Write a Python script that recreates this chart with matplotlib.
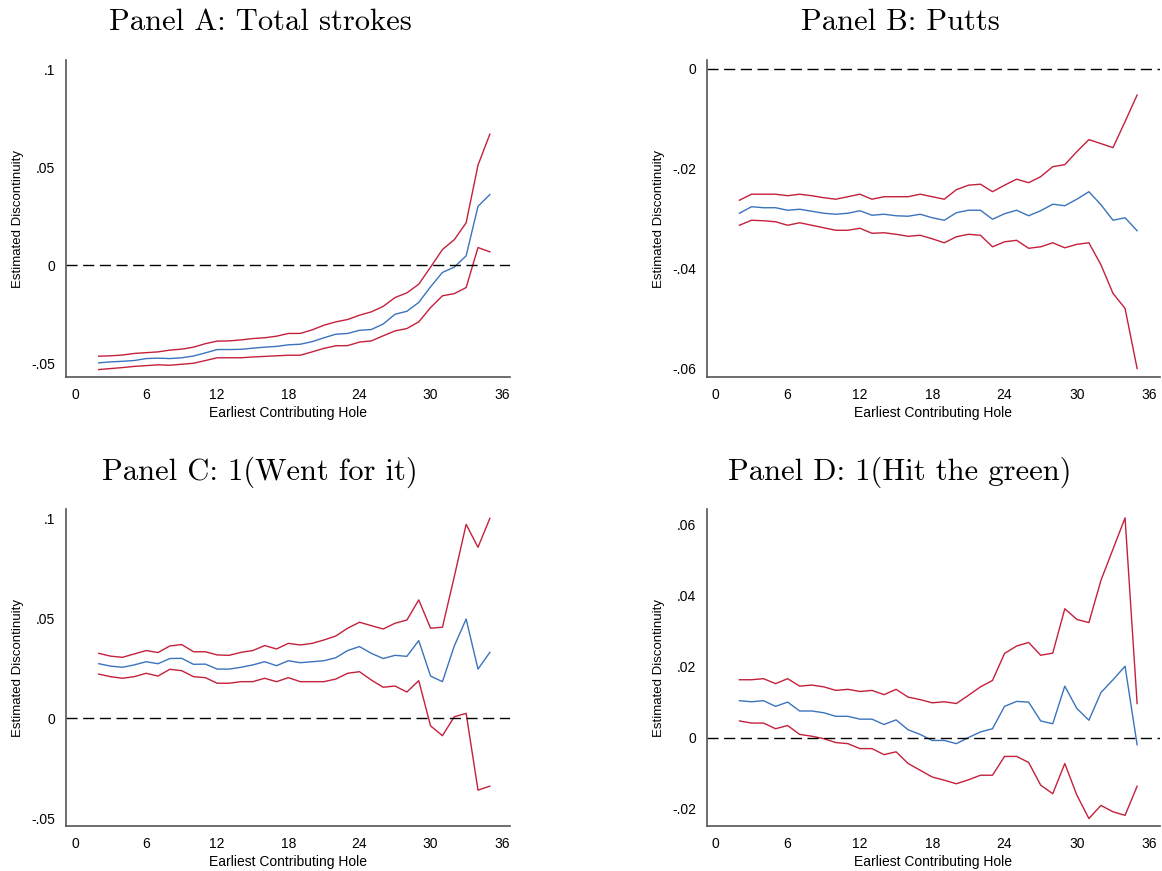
import matplotlib
matplotlib.use("Agg")
import matplotlib.pyplot as plt
import numpy as np

holes = list(range(2, 36))

# Panel A: total strokes
a_est = [-0.0498, -0.0493, -0.0490, -0.0486, -0.0476, -0.0474, -0.0476, -0.0472, -0.0463, -0.0447,
         -0.0430, -0.0430, -0.0429, -0.0423, -0.0418, -0.0414, -0.0406, -0.0403, -0.0390, -0.0370,
         -0.0352, -0.0348, -0.0332, -0.0328, -0.0300, -0.0250, -0.0235, -0.0190, -0.0110, -0.0037,
         -0.0010, 0.0048, 0.0300, 0.0360]
a_hi = [-0.0464, -0.0462, -0.0458, -0.0450, -0.0446, -0.0442, -0.0433, -0.0428, -0.0418, -0.0400,
        -0.0387, -0.0386, -0.0381, -0.0374, -0.0370, -0.0362, -0.0348, -0.0348, -0.0330, -0.0306,
        -0.0289, -0.0277, -0.0255, -0.0238, -0.0210, -0.0165, -0.0141, -0.0097, -0.0010, 0.0080,
        0.0130, 0.0216, 0.0510, 0.0668]
a_lo = [-0.0532, -0.0527, -0.0522, -0.0516, -0.0512, -0.0508, -0.0510, -0.0505, -0.0500, -0.0486,
        -0.0472, -0.0472, -0.0472, -0.0468, -0.0465, -0.0462, -0.0459, -0.0459, -0.0442, -0.0424,
        -0.0411, -0.0410, -0.0392, -0.0386, -0.0360, -0.0335, -0.0323, -0.0289, -0.0216, -0.0156,
        -0.0145, -0.0114, 0.0090, 0.0068]

# Panel B: putts
b_est = [-0.0289, -0.0276, -0.0278, -0.0278, -0.0283, -0.0281, -0.0285, -0.0289, -0.0291, -0.0289,
         -0.0284, -0.0293, -0.0291, -0.0294, -0.0295, -0.0291, -0.0298, -0.0303, -0.0288, -0.0283,
         -0.0283, -0.0301, -0.0290, -0.0283, -0.0294, -0.0284, -0.0271, -0.0274, -0.0261, -0.0246,
         -0.0272, -0.0303, -0.0298, -0.0324]
b_hi = [-0.0263, -0.0251, -0.0251, -0.0251, -0.0254, -0.0251, -0.0254, -0.0258, -0.0261, -0.0256,
        -0.0251, -0.0261, -0.0256, -0.0256, -0.0256, -0.0251, -0.0256, -0.0261, -0.0242, -0.0233,
        -0.0231, -0.0246, -0.0233, -0.0221, -0.0228, -0.0216, -0.0196, -0.0192, -0.0166, -0.0142,
        -0.0150, -0.0158, -0.0106, -0.0053]
b_lo = [-0.0313, -0.0303, -0.0304, -0.0306, -0.0313, -0.0308, -0.0313, -0.0318, -0.0323, -0.0323,
        -0.0319, -0.0329, -0.0328, -0.0331, -0.0335, -0.0333, -0.0340, -0.0348, -0.0336, -0.0331,
        -0.0333, -0.0356, -0.0346, -0.0343, -0.0359, -0.0356, -0.0348, -0.0358, -0.0351, -0.0348,
        -0.0392, -0.0449, -0.0479, -0.0599]

# Panel C: 1(Went for it)
c_est = [0.0274, 0.0262, 0.0256, 0.0268, 0.0284, 0.0274, 0.0300, 0.0301, 0.0271, 0.0272,
         0.0247, 0.0247, 0.0256, 0.0268, 0.0284, 0.0264, 0.0289, 0.0279, 0.0284, 0.0289,
         0.0304, 0.0340, 0.0360, 0.0326, 0.0300, 0.0316, 0.0311, 0.0390, 0.0212, 0.0184,
         0.0363, 0.0498, 0.0247, 0.0331]
c_hi = [0.0326, 0.0312, 0.0306, 0.0323, 0.0340, 0.0330, 0.0363, 0.0370, 0.0334, 0.0334,
        0.0318, 0.0316, 0.0331, 0.0340, 0.0365, 0.0348, 0.0376, 0.0368, 0.0376, 0.0393,
        0.0413, 0.0452, 0.0482, 0.0465, 0.0448, 0.0477, 0.0493, 0.0594, 0.0452, 0.0457,
        0.0711, 0.0973, 0.0858, 0.1003]
c_lo = [0.0222, 0.0209, 0.0201, 0.0209, 0.0226, 0.0212, 0.0246, 0.0239, 0.0209, 0.0204,
        0.0176, 0.0176, 0.0184, 0.0184, 0.0201, 0.0184, 0.0204, 0.0184, 0.0184, 0.0184,
        0.0197, 0.0226, 0.0234, 0.0192, 0.0156, 0.0162, 0.0132, 0.0189, -0.0038, -0.0087,
        0.0008, 0.0025, -0.0360, -0.0340]

# Panel D: 1(Hit the green)
d_est = [0.0105, 0.0102, 0.0105, 0.0089, 0.0101, 0.0076, 0.0076, 0.0071, 0.0061, 0.0061,
         0.0053, 0.0053, 0.0038, 0.0051, 0.0023, 0.0010, -0.0007, -0.0007, -0.0016, 0.0001,
         0.0017, 0.0026, 0.0089, 0.0103, 0.0101, 0.0048, 0.0040, 0.0146, 0.0083, 0.0050,
         0.0128, 0.0164, 0.0202, -0.0019]
d_hi = [0.0164, 0.0164, 0.0167, 0.0153, 0.0167, 0.0146, 0.0149, 0.0144, 0.0134, 0.0137,
        0.0131, 0.0134, 0.0122, 0.0137, 0.0115, 0.0108, 0.0099, 0.0102, 0.0097, 0.0120,
        0.0144, 0.0162, 0.0238, 0.0259, 0.0269, 0.0233, 0.0239, 0.0364, 0.0334, 0.0325,
        0.0444, 0.0532, 0.0620, 0.0097]
d_lo = [0.0048, 0.0042, 0.0042, 0.0026, 0.0035, 0.0010, 0.0005, -0.0002, -0.0013, -0.0016,
        -0.0030, -0.0030, -0.0047, -0.0039, -0.0072, -0.0091, -0.0110, -0.0119, -0.0129, -0.0118,
        -0.0105, -0.0105, -0.0052, -0.0052, -0.0069, -0.0133, -0.0157, -0.0072, -0.0161, -0.0227,
        -0.0190, -0.0208, -0.0218, -0.0136]

titles = ["Panel A: Total strokes", "Panel B: Putts",
          "Panel C: 1(Went for it)", "Panel D: 1(Hit the green)"]
yticks = [[-0.05, 0, 0.05, 0.1], [-0.06, -0.04, -0.02, 0],
          [-0.05, 0, 0.05, 0.1], [-0.02, 0, 0.02, 0.04, 0.06]]
yticklabels = [["-.05", "0", ".05", ".1"], ["-.06", "-.04", "-.02", "0"],
               ["-.05", "0", ".05", ".1"], ["-.02", "0", ".02", ".04", ".06"]]
ylims = [(-0.057, 0.1046), (-0.0616, 0.0017), (-0.054, 0.105), (-0.0248, 0.0645)]
xticks = [0, 6, 12, 18, 24, 30, 36]

panels = [(a_est, a_hi, a_lo), (b_est, b_hi, b_lo), (c_est, c_hi, c_lo), (d_est, d_hi, d_lo)]

W, H = 1162, 871
fig = plt.figure(figsize=(W / 100, H / 100), dpi=100)

# axes boxes in pixels: left, top, right, bottom
boxes = [(66, 60, 510, 377), (707, 60, 1160, 377), (66, 509, 510, 826), (707, 509, 1160, 826)]
xlims = [(-0.76, 36.7), (-0.69, 36.9), (-0.76, 36.7), (-0.69, 36.9)]
title_pos = [(260, 22), (900, 22), (260, 472), (900, 472)]

blue = "#3b73bd"
red = "#c4203c"

for i, (est, hi, lo) in enumerate(panels):
    l, t, r, b = boxes[i]
    ax = fig.add_axes([l / W, 1 - b / H, (r - l) / W, (b - t) / H])
    ax.plot(holes, hi, color=red, lw=1.0)
    ax.plot(holes, est, color=blue, lw=1.0)
    ax.plot(holes, lo, color=red, lw=1.0)
    ax.axhline(0, color="black", lw=1.0, ls=(0, (8, 4)))
    ax.set_xlim(*xlims[i])
    ax.set_ylim(*ylims[i])
    ax.set_xticks(xticks)
    ax.set_xticklabels([str(x) for x in xticks], fontsize=10, family="Liberation Sans")
    ax.set_yticks(yticks[i])
    ax.set_yticklabels(yticklabels[i], fontsize=10, family="Liberation Sans")
    ax.tick_params(length=0, pad=8)
    ax.set_xlabel("Earliest Contributing Hole", fontsize=10, family="Liberation Sans", labelpad=3)
    ax.set_ylabel("Estimated Discontinuity", fontsize=9.5, family="Liberation Sans", labelpad=5)
    for s in ["top", "right"]:
        ax.spines[s].set_visible(False)
    for s in ["left", "bottom"]:
        ax.spines[s].set_color("#555555")
        ax.spines[s].set_linewidth(1.2)
    tx, ty = title_pos[i]
    fig.text(tx / W, 1 - ty / H, titles[i], ha="center", va="center",
             fontsize=22, family="cmr10")

fig.savefig("out.png", dpi=100)
